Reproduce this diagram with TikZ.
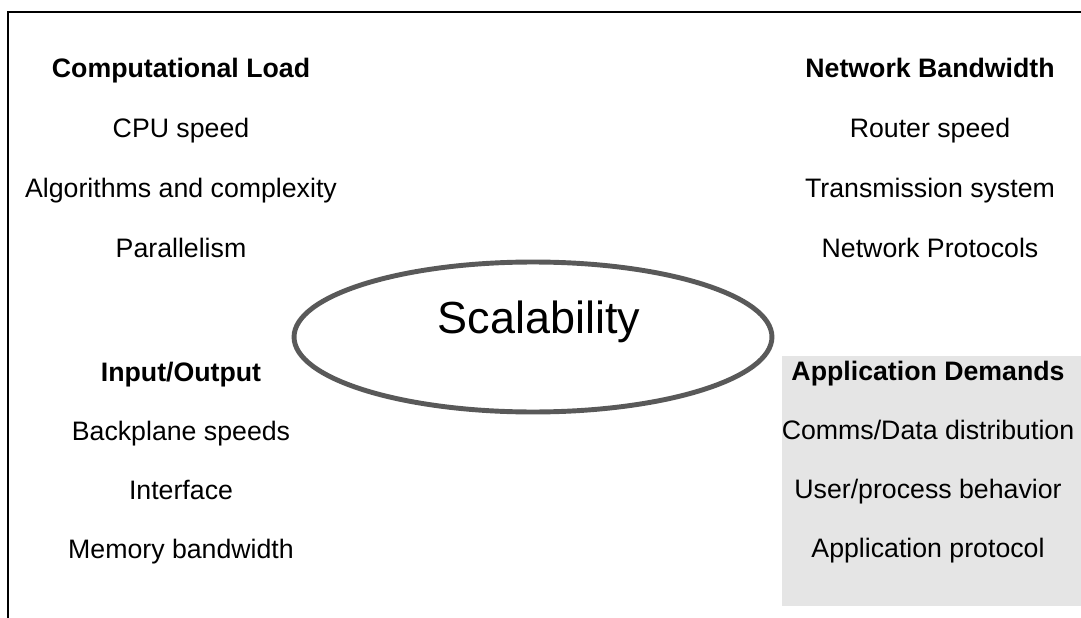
\documentclass[tikz,border=0pt]{standalone}
\usepackage{fontspec}
\setmainfont{Liberation Sans}
\usetikzlibrary{shapes.geometric}

\begin{document}
\begin{tikzpicture}[x=0.02cm,y=-0.02cm,node distance=1.2cm,
      head node/.style={font=\fontsize{15.2}{18}\selectfont\bfseries,text height=0.75em,text depth=0.25em},
      item node/.style={font=\fontsize{15.2}{18}\selectfont,text height=0.75em,text depth=0.25em}]

    \useasboundingbox (0,0) rectangle (1081,618);
    \draw[line width=1.2pt] (8,618) -- (8,12) -- (1081,12);
    \fill[gray!20] (782,356) rectangle (1081,606);

    \node[draw=black!65,line width=2.8pt,ellipse,minimum width=9.56cm,minimum height=3cm] (scal) at (533,337) {};
    \node[font=\fontsize{25.6}{30}\selectfont] (scaltext) at (539,322) {Scalability};

    \node[head node] (cl) at (181,73) {Computational Load};
    \node[item node] (cl1) [below of=cl] {CPU speed};
    \node[item node] (cl2) [below of=cl1] {Algorithms and complexity};
    \node[item node] (cl3) [below of=cl2] {Parallelism};

    \node[head node] (nb) at (930,73) {Network Bandwidth};
    \node[item node] (nb1) [below of=nb] {Router speed};
    \node[item node] (nb2) [below of=nb1] {Transmission system};
    \node[item node] (nb3) [below of=nb2] {Network Protocols};

    \node[head node] (io) at (181,377) {Input/Output};
    \node[item node] (io1) [below of=io,node distance=1.18cm] {Backplane speeds};
    \node[item node] (io2) [below of=io1,node distance=1.18cm] {Interface};
    \node[item node] (io3) [below of=io2,node distance=1.18cm] {Memory bandwidth};

    \node[head node] (ad) at (928,376) {Application Demands};
    \node[item node] (ad1) [below of=ad,node distance=1.18cm] {Comms/Data distribution};
    \node[item node] (ad2) [below of=ad1,node distance=1.18cm] {User/process behavior};
    \node[item node] (ad3) [below of=ad2,node distance=1.18cm] {Application protocol};
    \end{tikzpicture}
\end{document}
